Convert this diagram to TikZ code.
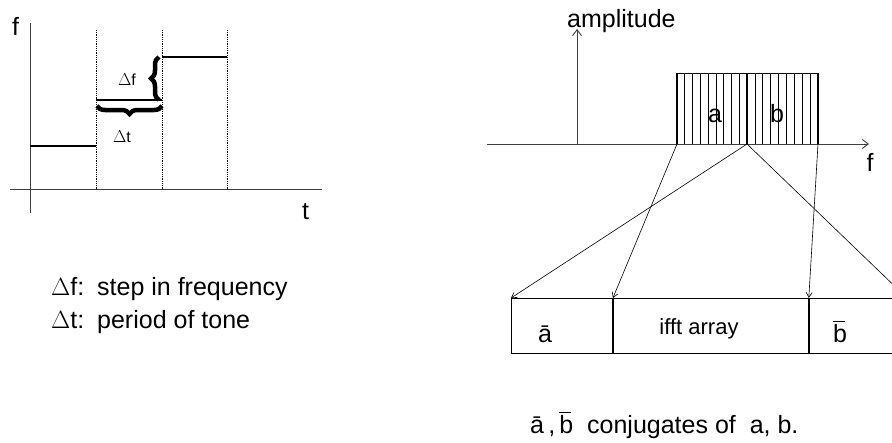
\documentclass[tikz,border=0pt]{standalone}
\usepackage{fontspec}
\setmainfont{Liberation Sans}
\usetikzlibrary{arrows.meta,positioning,decorations.pathreplacing}

\newcommand{\barb}{\ooalign{b\cr\raisebox{0.80em}{\rule{0.46em}{0.06em}}\hidewidth\cr}}

\begin{document}
\begin{tikzpicture}[
    x=1pt, y=-1pt,
    font=\fontsize{25}{30}\selectfont,
    smalltext/.style={font=\fontsize{16}{19}\selectfont},
    axisline/.style={black!75, line width=0.9pt},
    stepline/.style={line width=2pt},
    gridline/.style={densely dotted, line width=0.8pt},
    bracemark/.style={decorate, decoration={brace, amplitude=8pt}, line width=4.5pt},
    barline/.style={line width=0.6pt},
    edgeline/.style={line width=2pt},
    cell/.style={draw, line width=0.9pt, minimum height=55pt, inner sep=0pt, anchor=north west},
    maparrow/.style={line width=0.6pt, -{Straight Barb[length=5pt, width=6pt]}},
]
\useasboundingbox (0,0) rectangle (892,442);
\clip (0,0) rectangle (892,442);

% ============================================================
% LEFT: TONE STEPS OVER TIME
% ============================================================
\draw[axisline] (30,23) -- (30,213);
\draw[axisline] (10,189) -- (322,189);
\node[anchor=base west, inner sep=0pt] (flabel) at (12,35) {f};
\node[anchor=base west, inner sep=0pt] (tlabel) at (302,219) {t};

% Tone periods
\foreach \x in {96,162,227}
    \draw[gridline] (\x,30) -- (\x,189);
\draw[stepline] (30,146) -- (96,146);
\draw[stepline] (96,100) -- (162,100);
\draw[stepline] (162,57) -- (227,57);

% Step and period braces
\draw[bracemark] (159,100) -- (159,57);
\node[smalltext, anchor=base, inner sep=0pt] (dflabel) at (127,85) {$\Delta$f};
\draw[bracemark] (162,106) -- (97,106);
\node[smalltext, anchor=base, inner sep=0pt] (dtlabel) at (122,142) {$\Delta$t};

% Legend
\node[anchor=base west, inner sep=0pt] (dfnote) at (51,295) {\makebox[46pt][l]{$\Delta$f:}step in frequency};
\node[anchor=base west, inner sep=0pt] (dtnote) at (51,328) {\makebox[46pt][l]{$\Delta$t:}period of tone};

% ============================================================
% RIGHT: SPECTRUM MAPPED INTO IFFT ARRAY
% ============================================================
\draw[axisline, -{Straight Barb[length=6pt, width=9pt]}] (487,144) -- (869,144);
\node[anchor=base, inner sep=0pt] (fxlabel) at (870,171) {f};
\draw[axisline, -{Straight Barb[length=6pt, width=9pt]}] (577,144) -- (577,29);
\node[anchor=base west, inner sep=0pt] (amplabel) at (567,27) {amplitude};

% Sub-carrier bands a and b
\coordinate (aleft) at (677,144);
\coordinate (abmid) at (747,144);
\coordinate (bright) at (818,144);
\foreach \i in {1,...,8} {
    \draw[barline] ({677+\i*70/9},73) -- ({677+\i*70/9},144);
    \draw[barline] ({747+\i*71/9},73) -- ({747+\i*71/9},144);
}
\draw[barline] (677,73) -- (818,73);
\foreach \x in {677,747,818}
    \draw[edgeline] (\x,73) -- (\x,144);
\node[anchor=base, inner sep=0pt] (alabel) at (715,122) {a};
\node[anchor=base, inner sep=0pt] (blabel) at (777,122) {b};

% IFFT array
\node[cell, minimum width=101pt] (abarcell) at (511,298) {};
\node[cell, minimum width=195pt, right=0pt of abarcell.north east, anchor=north west] (ifftcell) {};
\node[cell, minimum width=110pt, right=0pt of ifftcell.north east, anchor=north west] (bbarcell) {};
\coordinate (bbarend) at (907,298);
\node[anchor=base, inner sep=0pt] (abarlabel) at (545,342) {\=a};
\node[anchor=base, inner sep=0pt, font=\fontsize{22}{26}\selectfont] (iffttext) at (699,334) {ifft array};
\node[anchor=base, inner sep=0pt] (bbarlabel) at (840,342) {\barb};

% Mapping arrows
\draw[maparrow] (aleft) -- (abarcell.north east);
\draw[maparrow] (abmid) -- (abarcell.north west);
\draw[maparrow] (abmid) -- (bbarend);
\draw[maparrow] (bright) -- (bbarcell.north west);

% Note
\node[anchor=base west, inner sep=0pt] (conjnote) at (530,433) {\=a\,,\,\barb\ \ conjugates of\ \ a, b.};
\end{tikzpicture}
\end{document}
